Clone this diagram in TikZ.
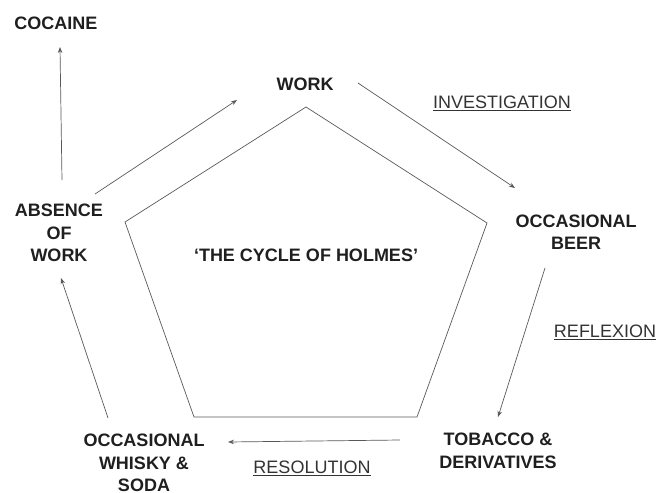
\documentclass[tikz,border=0pt]{standalone}
\usepackage{fontspec}
\setmainfont{Liberation Sans}
\usetikzlibrary{arrows.meta}
\tikzset{
  stage/.style={font=\fontsize{18}{22.5}\selectfont\bfseries, align=center, inner sep=0pt, text=black!88},
  phase/.style={font=\fontsize{18}{22.5}\selectfont, inner sep=0pt, text=black!80},
  arr/.style={-{Stealth[length=6pt,width=4.5pt]}, draw=black!65, line width=0.7pt}
}
\begin{document}
\begin{tikzpicture}[x=1pt,y=-1pt]
      \useasboundingbox (0,0) rectangle (660,492);
      \draw
        (56,23) node[stage] (cocaine){COCAINE}
        (305,84) node[stage] (work){WORK}
        (576,232) node[stage] (beer){OCCASIONAL\\BEER}
        (498,451) node[stage] (tobacco){TOBACCO \&\\DERIVATIVES}
        (144,463) node[stage] (whisky){OCCASIONAL\\WHISKY \&\\SODA}
        (59,233) node[stage] (absence){ABSENCE\\OF\\WORK}
        (306,255) node[stage] (cycle){`THE CYCLE OF HOLMES'}
        (502,103) node[phase] (investigation){\underline{INVESTIGATION}}
        (605,332) node[phase] (reflexion){\underline{REFLEXION}}
        (312,468) node[phase] (resolution){\underline{RESOLUTION}};
      \draw[black!65, line width=0.7pt]
        (306,107) -- (487,223) -- (417,417) -- (194,417) -- (125,222) -- cycle;
      \begin{scope}[arr]
        \draw ([shift={(36,-39)}]absence.center) to ([shift={(-68,16)}]work.center);
        \draw ([shift={(53,-1)}]work.center) to ([shift={(-61,-44)}]beer.center);
        \draw ([shift={(-31,36)}]beer.center) to ([shift={(0,-34)}]tobacco.center);
        \draw ([shift={(-98,-11)}]tobacco.center) to ([shift={(84,-21)}]whisky.center);
        \draw ([shift={(-36,-45)}]whisky.center) to ([shift={(2,45)}]absence.center);
        \draw ([shift={(3,-53)}]absence.center) to ([shift={(4,24)}]cocaine.center);
      \end{scope}
    \end{tikzpicture}
\end{document}
